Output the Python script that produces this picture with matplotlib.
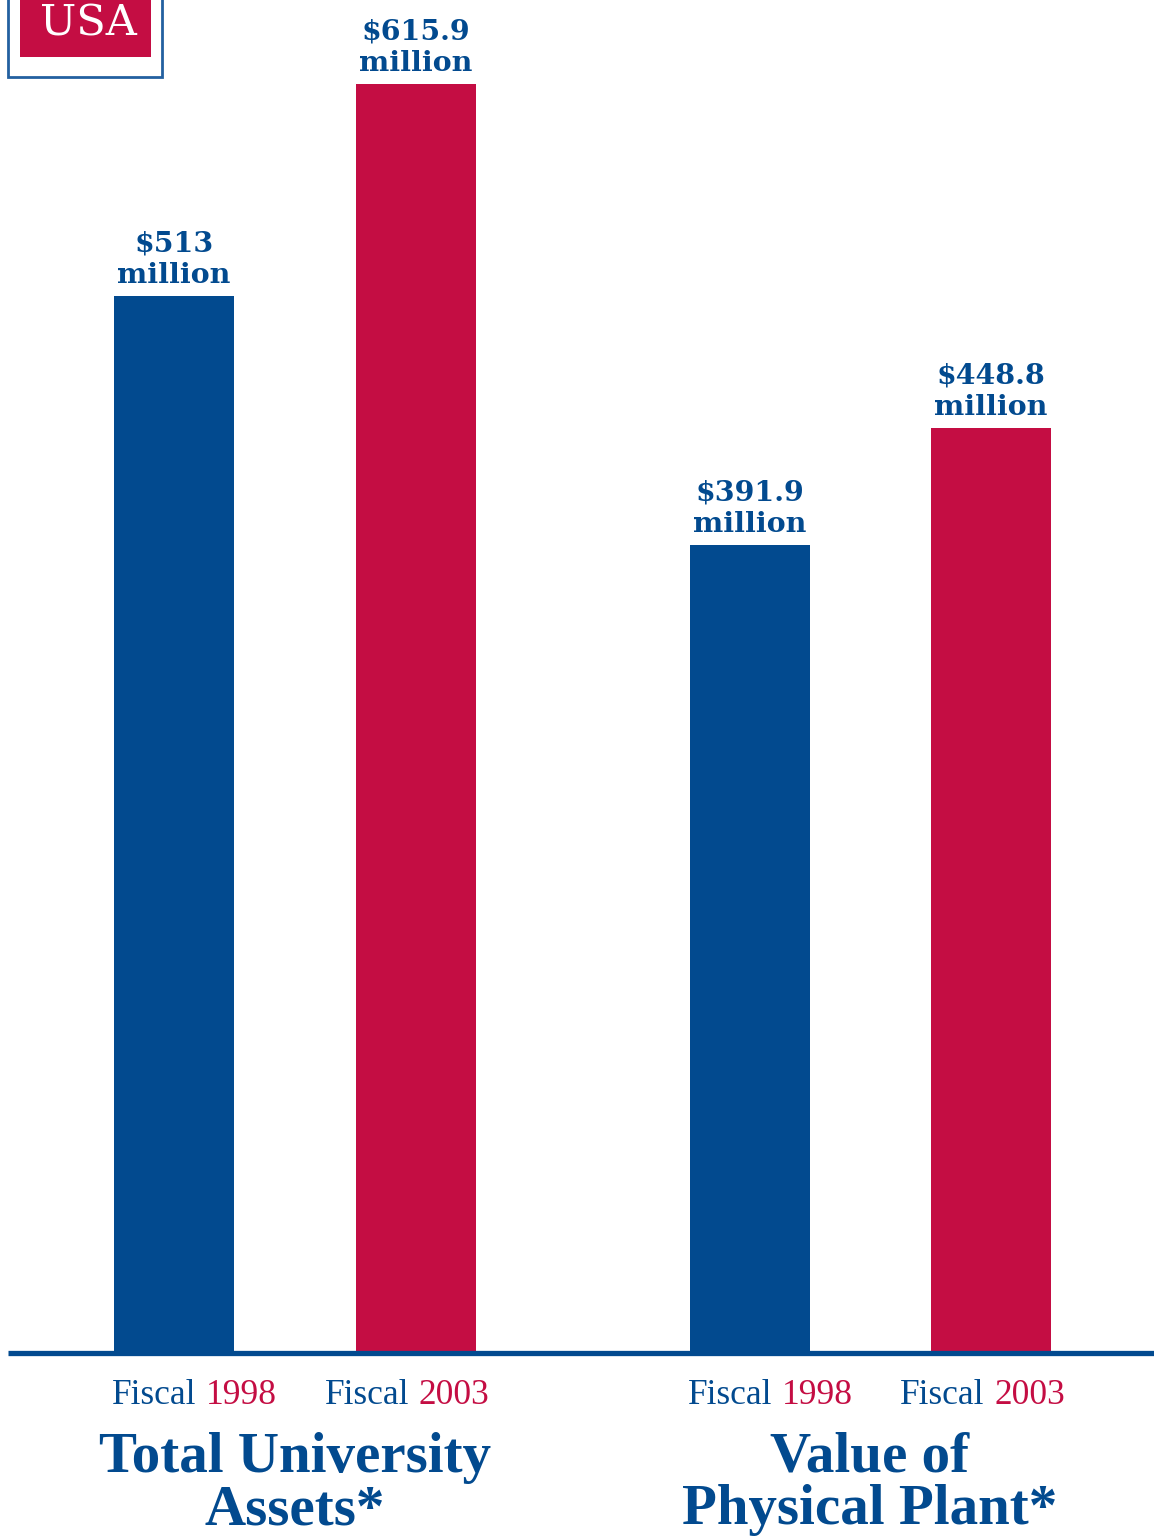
import matplotlib
matplotlib.use('Agg')
import matplotlib.pyplot as plt
from matplotlib.patches import Rectangle

# ── data
groups = ['Total University\nAssets*', 'Value of\nPhysical Plant*']
years = ['1998', '2003', '1998', '2003']
values = [513, 615.9, 391.9, 448.8]   # $ million

# ── style
BLUE = '#024a8f'
RED = '#c40d43'
SERIF = ['Liberation Serif', 'DejaVu Serif']
WIDE_SERIF = ['DejaVu Serif']

W, H = 1154, 1539
BASE = 1352.5           # baseline pixel row
PX_PER_M = 2.06         # pixels per $ million

fig = plt.figure(figsize=(W / 100, H / 100), dpi=100, facecolor='white')

# bar axes: x in pixels, y in $ million, bottom on the baseline
ax = fig.add_axes([0, (H - BASE) / H, 1, BASE / H])
ax.set_xlim(0, W)
ax.set_ylim(0, BASE / PX_PER_M)
ax.axis('off')

centers = [174, 416, 750, 991]
colors = [BLUE, RED, BLUE, RED]
ax.bar(centers, values, width=120, color=colors, zorder=2)

for x, v in zip(centers, values):
    ax.annotate(f'${v:g}\nmillion', xy=(x, v), xytext=(0, 5),
                textcoords='offset points', ha='center', va='bottom',
                fontsize=20.5, fontweight='bold', color=BLUE,
                family=WIDE_SERIF, linespacing=1.22)

# overlay in pixel coordinates for baseline, labels and logo
ov = fig.add_axes([0, 0, 1, 1], zorder=3)
ov.set_xlim(0, W)
ov.set_ylim(H, 0)
ov.axis('off')

ov.plot([8, W], [BASE, BASE], color=BLUE, lw=3.8, solid_capstyle='butt')

# "Fiscal" in blue, year in red
split = [22, -7, 22, -7]
for x, yr, dx in zip(centers, years, split):
    ov.text(x + dx, 1404, 'Fiscal', ha='right', va='baseline',
            fontsize=25.5, color=BLUE, family=SERIF)
    ov.text(x + dx + 10, 1404, yr, ha='left', va='baseline',
            fontsize=25.5, color=RED, family=SERIF)

for cx, title in zip([295, 870], groups):
    ov.text(cx, 1484, title, ha='center', va='center', fontsize=41,
            fontweight='bold', color=BLUE, family=SERIF, linespacing=1.02)

# logo box
ov.add_patch(Rectangle((8, -10), 154, 87, facecolor='white',
                       edgecolor='#2360a0', lw=2))
ov.add_patch(Rectangle((20, -10), 131, 67, facecolor=RED, edgecolor='none'))
ov.text(88, 36, 'USA', ha='center', va='baseline', fontsize=31,
        color='white', family=WIDE_SERIF)

fig.savefig('out.png', dpi=100, facecolor='white')
